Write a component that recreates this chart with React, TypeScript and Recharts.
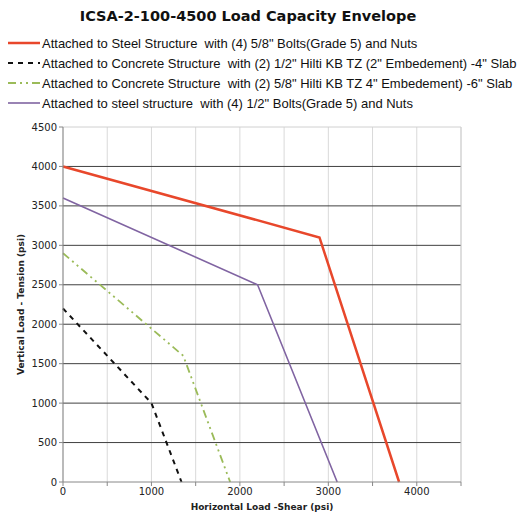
import { LineChart, Line, XAxis, YAxis, CartesianGrid, ReferenceLine } from 'recharts'

const xTicks = [0, 500, 1000, 1500, 2000, 2500, 3000, 3500, 4000, 4500]
const yTicks = [0, 500, 1000, 1500, 2000, 2500, 3000, 3500, 4000, 4500]
const darkRows = [500, 1000, 1500, 2000, 2500, 3000, 3500, 4000]

const steel58 = [
  { x: 0, y: 4000 },
  { x: 2900, y: 3100 },
  { x: 3800, y: 0 },
]
const concrete12 = [
  { x: 0, y: 2200 },
  { x: 1000, y: 1000 },
  { x: 1340, y: 0 },
]
const concrete58 = [
  { x: 0, y: 2900 },
  { x: 1360, y: 1600 },
  { x: 1890, y: 0 },
]
const steel12 = [
  { x: 0, y: 3600 },
  { x: 2200, y: 2500 },
  { x: 3100, y: 0 },
]

const series = [
  { name: 'Attached to Steel Structure  with (4) 5/8" Bolts(Grade 5) and Nuts', data: steel58, color: '#E8472B', width: 2.5, dash: undefined },
  { name: 'Attached to Concrete Structure  with (2) 1/2" Hilti KB TZ (2" Embedement) -4" Slab', data: concrete12, color: '#111111', width: 2, dash: '5 5' },
  { name: 'Attached to Concrete Structure  with (2) 5/8" Hilti KB TZ 4" Embedement) -6" Slab', data: concrete58, color: '#9BBB59', width: 1.8, dash: '8 4 2 4 2 4' },
  { name: 'Attached to steel structure  with (4) 1/2" Bolts(Grade 5) and Nuts', data: steel12, color: '#8064A2', width: 1.6, dash: undefined },
]

const font = 'Verdana, "DejaVu Sans", sans-serif'

function LegendBox() {
  return (
    <div
      style={{
        position: 'absolute',
        left: 8,
        top: 33,
        fontFamily: 'Arial, "Liberation Sans", sans-serif',
        fontSize: 13,
        color: '#111',
      }}
    >
      {series.map((s) => (
        <div key={s.name} style={{ display: 'flex', alignItems: 'center', height: 20, whiteSpace: 'pre' }}>
          <svg width={32} height={10} style={{ marginRight: 2 }}>
            <line x1={0} y1={5} x2={32} y2={5} stroke={s.color} strokeWidth={s.width} strokeDasharray={s.dash} />
          </svg>
          <span>{s.name}</span>
        </div>
      ))}
    </div>
  )
}

export default function App() {
  return (
    <div style={{ position: 'absolute', left: 0, top: 0, width: 526, height: 514, background: '#fff' }}>
      <LineChart width={526} height={514} margin={{ top: 127, right: 65, bottom: 4, left: 23 }}>
        <CartesianGrid horizontal={false} stroke="#d9d9d9" verticalValues={xTicks} />
        <CartesianGrid vertical={false} stroke="#404040" horizontalValues={darkRows} />
        <ReferenceLine y={4500} stroke="#d0d0d0" />
        <ReferenceLine x={4500} stroke="#d0d0d0" />
        <XAxis
          type="number"
          dataKey="x"
          domain={[0, 4500]}
          ticks={xTicks}
          interval={0}
          height={28}
          allowDuplicatedCategory={false}
          tickFormatter={(v: number) => (v % 1000 === 0 && v < 4500 ? String(v) : '')}
          stroke="#888"
          tickSize={4}
          tick={{ fill: '#222', fontSize: 10, fontFamily: font }}
          label={{
            value: 'Horizontal Load -Shear (psi)',
            position: 'insideBottom',
            offset: 0,
            fill: '#222',
            fontSize: 9,
            fontWeight: 'bold',
            fontFamily: font,
          }}
        />
        <YAxis
          type="number"
          domain={[0, 4500]}
          ticks={yTicks}
          interval={0}
          width={40}
          stroke="#888"
          tickSize={4}
          tick={{ fill: '#222', fontSize: 10, fontFamily: font }}
          label={{
            value: 'Vertical Load - Tension (psi)',
            angle: -90,
            position: 'insideLeft',
            offset: -2,
            style: { textAnchor: 'middle' },
            fill: '#222',
            fontSize: 9,
            fontWeight: 'bold',
            fontFamily: font,
          }}
        />
        {series.map((s) => (
          <Line
            key={s.name}
            data={s.data}
            dataKey="y"
            type="linear"
            stroke={s.color}
            strokeWidth={s.width}
            strokeDasharray={s.dash}
            dot={false}
            activeDot={false}
            isAnimationActive={false}
          />
        ))}
      </LineChart>
      <div
        style={{
          position: 'absolute',
          left: 0,
          top: 8,
          width: 496,
          textAlign: 'center',
          fontFamily: font,
          fontWeight: 'bold',
          fontSize: 14.5,
          color: '#111',
        }}
      >
        ICSA-2-100-4500 Load Capacity Envelope
      </div>
      <LegendBox />
    </div>
  )
}
